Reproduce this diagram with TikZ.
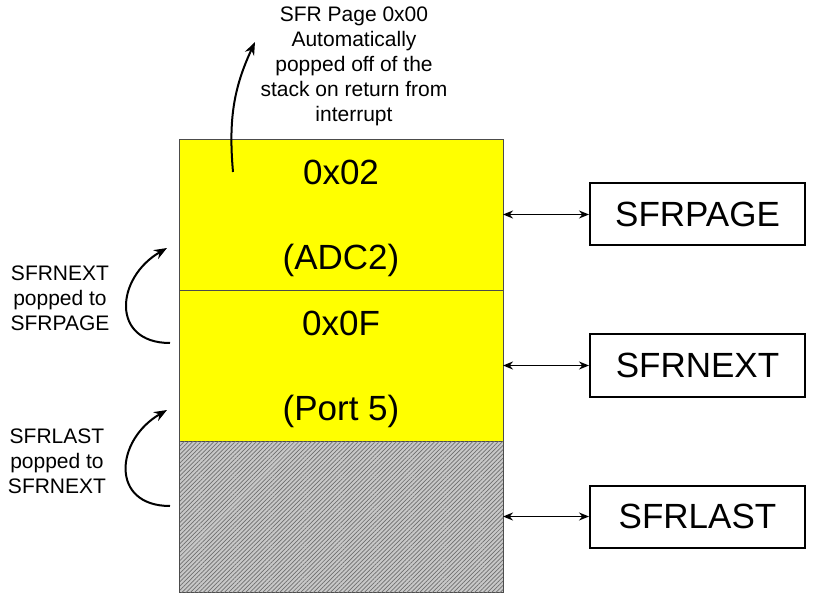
\documentclass[tikz,border=0pt]{standalone}
\usepackage{fontspec}
\setmainfont{Liberation Sans}
\usetikzlibrary{arrows.meta,positioning,calc,patterns.meta}
\definecolor{stackyellow}{RGB}{255,255,0}
\definecolor{hatchback}{RGB}{200,200,200}
\definecolor{hatchline}{RGB}{110,110,110}

\begin{document}
\begin{tikzpicture}[x=1pt, y=1pt,
    stackcell/.style={draw=gray!60!black, line width=0.6pt, minimum width=324pt, minimum height=151pt, inner sep=0pt, outer sep=0pt},
    celltext/.style={font=\fontsize{35}{42}\selectfont, inner sep=0pt},
    regbox/.style={draw, line width=2pt, minimum width=215pt, minimum height=62pt, font=\fontsize{35}{42}\selectfont, inner sep=0pt},
    note/.style={align=center, font=\fontsize{21}{25}\selectfont, inner sep=0pt},
    dblarrow/.style={{Stealth[length=10pt,width=8pt]}-{Stealth[length=10pt,width=8pt]}, line width=1.8pt},
    poparrow/.style={-{Stealth[length=13pt,width=10pt]}, line width=2pt}]
    \useasboundingbox (0,0) rectangle (813,592);
    % Stack of saved SFR pages, top of stack first
    \node[stackcell, fill=stackyellow] (cellA) at (341,377.5) {};
    \node[stackcell, fill=stackyellow, below=0pt of cellA] (cellB) {};
    \node[stackcell, fill=hatchback, below=0pt of cellB,
      postaction={pattern={Lines[angle=45, distance=3pt, line width=0.7pt]}, pattern color=hatchline}] (cellC) {};
    \draw[gray!60!black, line width=0.6pt] (cellC.north west) -- (cellC.south west);
    % Page number and peripheral held in each cell
    \node[celltext] (pageA) at ($(cellA.north)+(0,-33)$) {0x02};
    \node[celltext] (nameA) at ($(cellA.north)+(0,-121)$) {(ADC2)};
    \node[celltext] (pageB) at ($(cellB.north)+(0,-33)$) {0x0F};
    \node[celltext] (nameB) at ($(cellB.north)+(0,-121)$) {(Port 5)};
    % Registers on the right
    \node[regbox, right=86pt of cellA] (sfrpage) {SFRPAGE};
    \node[regbox, right=86pt of cellB] (sfrnext) {SFRNEXT};
    \node[regbox, right=86pt of cellC] (sfrlast) {SFRLAST};
    \foreach \c/\r in {cellA/sfrpage, cellB/sfrnext, cellC/sfrlast} {
      \draw[dblarrow] (\c.east) -- (\r.west);
    }
    % Notes on the left and on top
    \node[note] (noteA) at (60,294) {SFRNEXT\\popped to\\SFRPAGE};
    \node[note] (noteB) at (57,131) {SFRLAST\\popped to\\SFRNEXT};
    \node[note] (noteTop) at (354,526) {SFR Page 0x00\\Automatically\\popped off of the\\stack on return from\\interrupt};
    % Curved pop arrows
    \coordinate (popAfrom) at (170,249);
    \coordinate (popAto) at (167,344);
    \coordinate (popBfrom) at (170,86);
    \coordinate (popBto) at (167,182);
    \coordinate (retfrom) at (233,420);
    \coordinate (retto) at (255,550);
    \draw[poparrow] (popAfrom) to[out=180, in=210, looseness=1.6] (popAto);
    \draw[poparrow] (popBfrom) to[out=180, in=210, looseness=1.6] (popBto);
    \draw[poparrow] (retfrom) to[out=95, in=245] (retto);
  \end{tikzpicture}
\end{document}
